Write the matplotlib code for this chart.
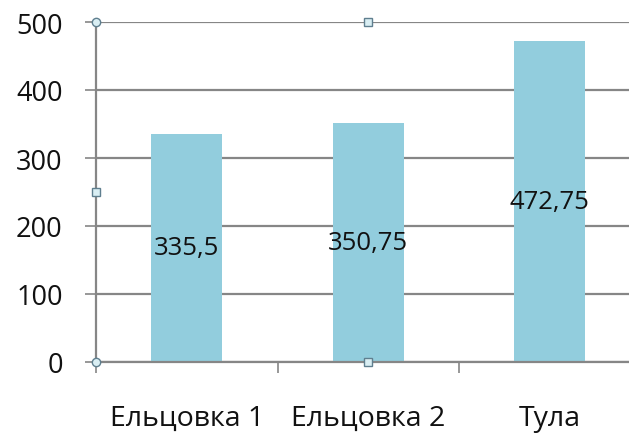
import matplotlib
matplotlib.use("Agg")
import matplotlib.pyplot as plt

plt.rcParams['font.family'] = ['Open Sans', 'DejaVu Sans']

categories = ['Ельцовка 1', 'Ельцовка 2', 'Тула']
values = [335.5, 350.75, 472.75]
value_labels = ['335,5', '350,75', '472,75']
yticks = [0, 100, 200, 300, 400, 500]

grid_color = '#868686'
bar_color = '#92CDDD'
text_color = '#111111'

fig = plt.figure(figsize=(6.29, 4.39), dpi=100)
ax = fig.add_axes([96 / 629, (439 - 363) / 439, 1 - 96 / 629, 340 / 439])

x = list(range(len(categories)))
ax.bar(x, values, width=0.39, color=bar_color, zorder=2)

for xi, v, lab in zip(x, values, value_labels):
    ax.text(xi, v / 2, lab, ha='center', va='center', fontsize=18.5, color=text_color, zorder=3)

ax.set_yticks(yticks)
ax.set_yticklabels([str(t) for t in yticks], fontsize=19.5, color=text_color)
ax.yaxis.grid(True, color=grid_color, linewidth=1.6, zorder=1)
ax.set_axisbelow(True)

# category labels between boundary ticks
ax.set_xticks([-0.5, 0.5, 1.5, 2.5])
ax.set_xticklabels([])
ax.set_xticks(x, minor=True)
ax.set_xticklabels(categories, minor=True, fontsize=20.5, color=text_color)
ax.tick_params(axis='x', which='minor', length=0, pad=30)
ax.tick_params(axis='x', which='major', length=8, width=1.2, color=grid_color, direction='out')
ax.tick_params(axis='y', length=8, width=1.2, color=grid_color, pad=16)

ax.set_xlim(-0.5, -0.5 + 533 / 181.5)
ax.set_ylim(0, 500)

for side in ['top', 'right']:
    ax.spines[side].set_visible(False)
for side in ['left', 'bottom']:
    ax.spines[side].set_color(grid_color)
    ax.spines[side].set_linewidth(1.6)

# selection handles of the plot area
ax.plot([-0.5, -0.5], [0, 500], 'o', ms=6, mfc='#D9EEF3', mec='#5F7F8F', mew=1, clip_on=False, zorder=5)
ax.plot([1, 1, -0.5], [500, 0, 250], 's', ms=5.5, mfc='#D9EEF3', mec='#5F7F8F', mew=1, clip_on=False, zorder=5)

fig.savefig('out.png', dpi=100)
